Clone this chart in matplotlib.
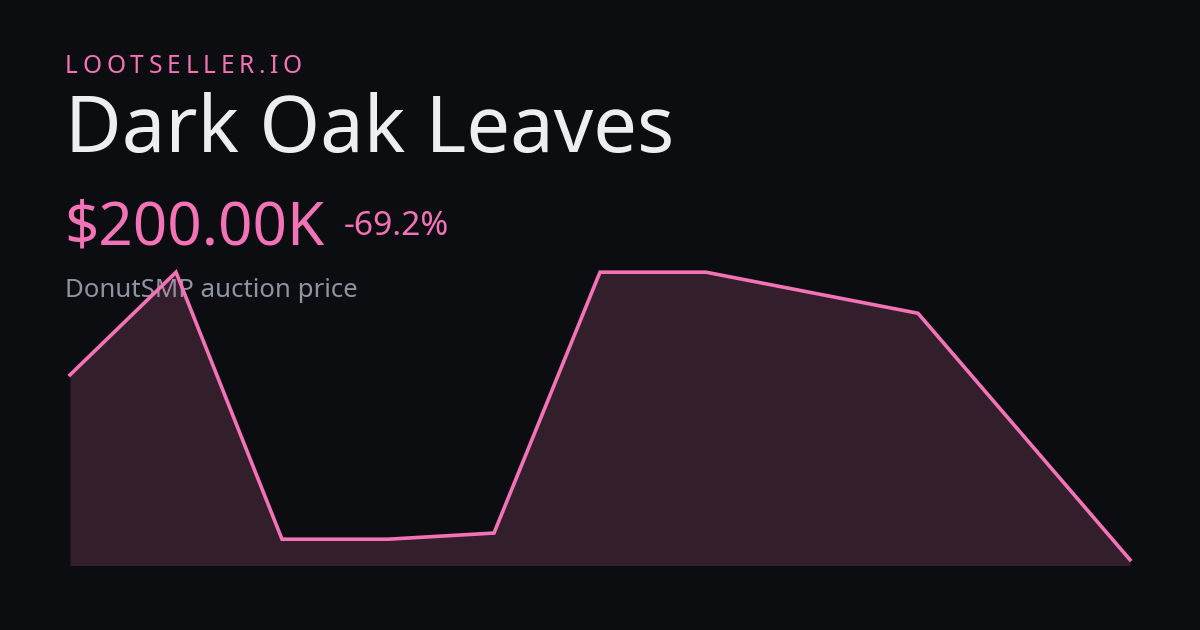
import matplotlib
matplotlib.use("Agg")
import matplotlib.pyplot as plt

# ---- data ----
periods = list(range(11))
prices_k = [650, 900, 250, 250, 265, 900, 900, 850, 800, 500, 200]
brand = "LOOTSELLER.IO"
title = "Dark Oak Leaves"
price_label = "$200.00K"
change_label = "-69.2%"
subtitle = "DonutSMP auction price"

BG = "#0c0d10"
PINK = "#f472b6"
W, H = 1200, 630
DPI = 100

plt.rcParams['font.family'] = ['Noto Sans', 'DejaVu Sans']

fig = plt.figure(figsize=(W / DPI, H / DPI), dpi=DPI, facecolor=BG)


def px(x, y):
    return x / W, 1 - y / H


def pt(pixels):
    return pixels * 72 / DPI


# texts
fig.text(*px(65, 152), title, fontsize=pt(77.8), color="#eceef2", va="baseline", ha="left")
fig.text(*px(64, 244), price_label, fontsize=pt(60), color=PINK, va="baseline", ha="left")
fig.text(*px(344, 235), change_label, fontsize=pt(33.6), color=PINK, va="baseline", ha="left")
fig.text(*px(65, 297), subtitle, fontsize=pt(25.8), color="#8e94a2", va="baseline", ha="left")

# letter-spaced brand
renderer = fig.canvas.get_renderer()
widths = []
for ch in brand:
    t = fig.text(0, 0, ch, fontsize=pt(24.5))
    bb = t.get_window_extent(renderer)
    widths.append(bb.width)
    t.remove()
total = 237.0
spacing = (total - sum(widths)) / (len(brand) - 1)
xcur = 65.0
for ch, w in zip(brand, widths):
    fig.text(*px(xcur, 73), ch, fontsize=pt(24.5), color=PINK, va="baseline", ha="left")
    xcur += w + spacing

# chart
ymin, ymax = 186, 900
y_top_px, y_bot_px = 272.2, 565.5
left_px, right_px = 70, 1130
ax = fig.add_axes([left_px / W, (H - y_bot_px) / H, (right_px - left_px) / W, (y_bot_px - y_top_px) / H])
ax.set_zorder(5)
ax.patch.set_alpha(0)
ax.fill_between(periods, prices_k, ymin, color=PINK, alpha=0.17, linewidth=0)
ax.plot(periods, prices_k, color=PINK, linewidth=2.6, solid_joinstyle="miter", clip_on=False)
ax.set_xlim(periods[0], periods[-1])
ax.set_ylim(ymin, ymax)
ax.axis("off")

fig.savefig("out.png", dpi=DPI, facecolor=BG)
